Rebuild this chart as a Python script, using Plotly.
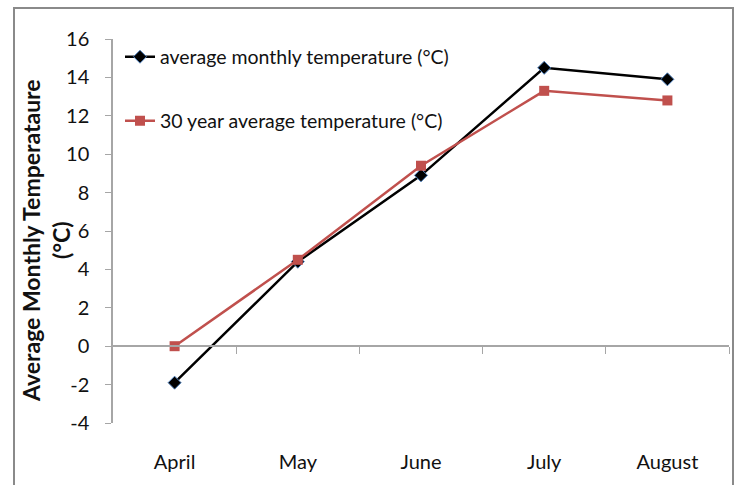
import plotly.graph_objects as go

# Monthly temperatures, April to August
months = ["April", "May", "June", "July", "August"]
avg_monthly = [-1.9, 4.4, 8.9, 14.5, 13.9]
avg_30_year = [0.0, 4.5, 9.4, 13.3, 12.8]
y_ticks = [-4, -2, 0, 2, 4, 6, 8, 10, 12, 14, 16]
y_tick_labels = ["-4", "-2", "0", "2", "4", "6", "8", "10", "12", "14", "16"]

FONT = "Lato"
GRAY = "#a6a6a6"

fig = go.Figure()

fig.add_trace(go.Scatter(
    x=months, y=avg_monthly, mode="lines+markers",
    name="average monthly temperature (°C)",
    line=dict(color="black", width=2.5),
    marker=dict(symbol="diamond", size=10, color="black",
                line=dict(color="#4f81bd", width=1)),
    legend="legend",
))
fig.add_trace(go.Scatter(
    x=months, y=avg_30_year, mode="lines+markers",
    name="30 year average temperature (°C)",
    line=dict(color="#c0504d", width=2.5),
    marker=dict(symbol="square", size=10, color="#c0504d"),
    legend="legend2",
))

W, H = 734, 485
L, R, T, B = 113, 5, 39, 62
pw, ph = W - L - R, H - T - B

def px_x(p):
    return (p - L) / pw

def px_y(p):
    return (H - B - p) / ph

fig.update_layout(
    width=W, height=H,
    margin=dict(l=L, r=R, t=T, b=B),
    paper_bgcolor="white", plot_bgcolor="white",
    font=dict(family=FONT, size=19, color="#111111"),
    xaxis=dict(
        type="category", categoryarray=months, range=[-0.5, len(months) - 0.5],
        showline=False, showgrid=False, zeroline=False, ticks="",
        ticklabelstandoff=25, tickfont=dict(size=20),
    ),
    xaxis2=dict(
        overlaying="x", anchor="free", position=(0 - y_ticks[0]) / (y_ticks[-1] - y_ticks[0]),
        range=[-0.5, len(months) - 0.5],
        tickvals=[i + 0.5 for i in range(len(months))],
        showticklabels=False, showline=True, linecolor=GRAY, linewidth=1.5,
        ticks="outside", ticklen=7, tickcolor=GRAY, tickwidth=1,
        showgrid=False, zeroline=False,
    ),
    yaxis=dict(
        range=[y_ticks[0], y_ticks[-1]], tickvals=y_ticks, ticktext=y_tick_labels,
        showline=True, linecolor=GRAY, linewidth=1.5,
        ticks="outside", ticklen=6, tickcolor=GRAY,
        showgrid=False, zeroline=False,
        ticklabelstandoff=12, tickfont=dict(size=20),
    ),
    legend=dict(
        x=px_x(120), y=px_y(57), xanchor="left", yanchor="middle",
        bgcolor="rgba(0,0,0,0)", font=dict(size=19.5),
    ),
    legend2=dict(
        x=px_x(120), y=px_y(121), xanchor="left", yanchor="middle",
        bgcolor="rgba(0,0,0,0)", font=dict(size=19.5),
    ),
    showlegend=True,
)

# Empty trace to host the zero-line category axis
fig.add_trace(go.Scatter(x=[], y=[], xaxis="x2", showlegend=False, hoverinfo="skip"))

# Axis title on two lines
fig.add_annotation(
    text="<b>Average Monthly Temperataure</b><br><b>(°C)</b>",
    xref="paper", yref="paper", x=px_x(46), y=px_y(241),
    xanchor="center", yanchor="middle", textangle=-90,
    showarrow=False, font=dict(family=FONT, size=23, color="#111111", weight=700),
)

# Chart frame
fig.add_shape(
    type="rect", xref="paper", yref="paper",
    x0=px_x(14), x1=px_x(733), y0=px_y(495), y1=px_y(8),
    line=dict(color="#8a8a8a", width=2), fillcolor="rgba(0,0,0,0)", layer="below",
)

fig.write_html("out.html")
